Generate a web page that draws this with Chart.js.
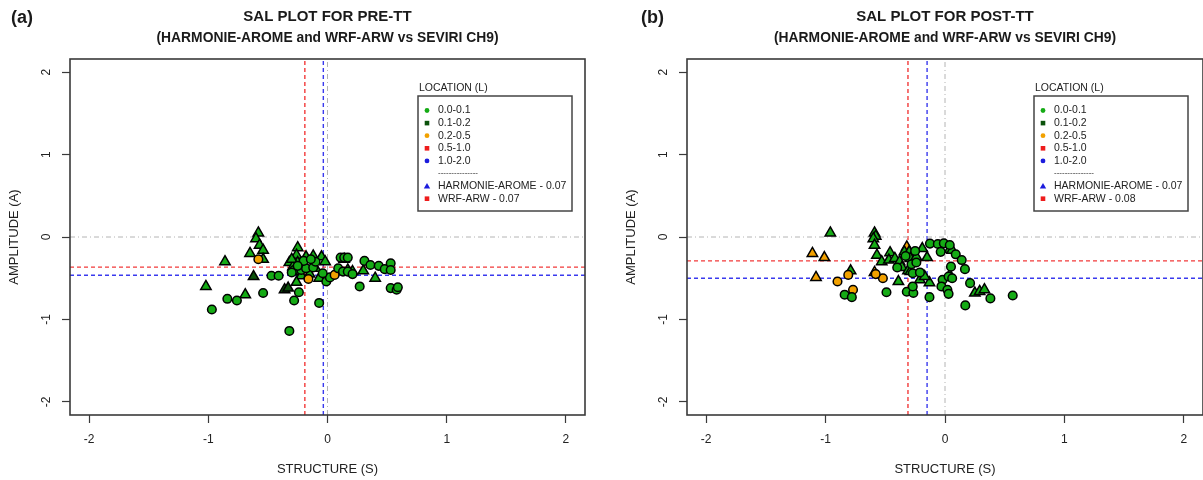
<!DOCTYPE html>
<html>
<head>
<meta charset="utf-8">
<script src="https://cdn.jsdelivr.net/npm/chart.js@4/dist/chart.umd.min.js"></script>
<style>
  html, body { margin: 0; padding: 0; background: #fff; width: 1203px; height: 480px; overflow: hidden; }
  canvas { position: absolute; top: 0; }
  #panelA { left: 0; }
  #panelB { left: 617px; }
</style>
</head>
<body>
<canvas id="panelA" width="601" height="480"></canvas>
<canvas id="panelB" width="586" height="480"></canvas>
<script>
// ---- axis ticks and ranges ----
const tickValues = [-2, -1, 0, 1, 2];
const axisMin = -2.16;
const axisMax = 2.16;

// ---- location classes (L) ----
const locLabels = ['0.0-0.1', '0.1-0.2', '0.2-0.5', '0.5-1.0', '1.0-2.0'];
const locColors = ['#15ab15', '#0b520b', '#f2a100', '#ee1c1c', '#1c1cdd'];
const locSymbols = ['circle', 'rect', 'circle', 'rect', 'circle'];

// ---- models ----
const modelNames = ['HARMONIE-AROME', 'WRF-ARW'];
const modelColors = ['#1c1cdd', '#ee1c1c'];
const meanLineColors = ['#3a3aee', '#f23a3a'];
const modelShapes = ['triangle', 'circle'];

// ---- panel titles ----
const titlePre = ['SAL PLOT FOR PRE-TT', '(HARMONIE-AROME and WRF-ARW vs SEVIRI CH9)'];
const titlePost = ['SAL PLOT FOR POST-TT', '(HARMONIE-AROME and WRF-ARW vs SEVIRI CH9)'];

// ---- model scores shown in the legend ----
const scoresPre = [0.07, 0.07];
const scoresPost = [0.07, 0.08];

// ---- mean S and A per model: [HARMONIE-AROME, WRF-ARW] ----
const meanSPre = [-0.035, -0.19];
const meanAPre = [-0.465, -0.365];
const meanSPost = [-0.15, -0.31];
const meanAPost = [-0.50, -0.29];

// ---- SAL values per case: [S, A, location class index] ----
const preHarmonie = [
  [-0.58, 0.05, 0], [-0.60, -0.02, 0], [-0.57, -0.10, 0], [-0.54, -0.16, 0], [-0.65, -0.20, 0],
  [-0.54, -0.27, 0], [-0.86, -0.30, 0], [-0.62, -0.48, 1], [-1.02, -0.60, 0], [-0.69, -0.70, 0],
  [-0.36, -0.64, 1], [-0.33, -0.62, 1], [-0.25, -0.13, 0], [-0.26, -0.22, 0], [-0.32, -0.31, 0],
  [-0.25, -0.31, 0], [-0.18, -0.24, 0], [-0.12, -0.23, 0], [-0.05, -0.24, 0], [-0.25, -0.42, 0],
  [-0.22, -0.47, 0], [-0.10, -0.38, 0], [-0.07, -0.50, 0], [-0.26, -0.55, 0], [0.14, -0.27, 0],
  [0.17, -0.40, 0], [0.30, -0.41, 0], [0.40, -0.50, 0], [0.21, -0.42, 0], [-0.29, -0.36, 0],
  [-0.30, -0.27, 0], [-0.21, -0.33, 0], [-0.15, -0.45, 0], [-0.02, -0.30, 0]
];
const preWrf = [
  [-0.47, -0.47, 0], [-0.41, -0.47, 0], [-0.54, -0.68, 0], [-0.84, -0.75, 0], [-0.76, -0.77, 0],
  [-0.97, -0.88, 0], [-0.32, -1.14, 0], [-0.28, -0.77, 0], [-0.24, -0.67, 0], [-0.07, -0.80, 0],
  [-0.28, -0.40, 0], [-0.22, -0.40, 0], [-0.18, -0.38, 0], [-0.12, -0.37, 0], [-0.16, -0.51, 2],
  [-0.58, -0.27, 2], [-0.01, -0.54, 0], [0.02, -0.49, 0], [0.06, -0.46, 2], [0.09, -0.38, 0],
  [0.13, -0.42, 0], [0.17, -0.42, 0], [0.21, -0.45, 0], [0.11, -0.25, 0], [0.14, -0.25, 0],
  [0.17, -0.25, 0], [0.27, -0.60, 0], [0.31, -0.29, 0], [0.36, -0.34, 0], [0.43, -0.35, 0],
  [0.48, -0.39, 0], [0.53, -0.32, 0], [0.53, -0.40, 0], [0.53, -0.62, 0], [0.58, -0.64, 0],
  [0.59, -0.61, 0], [-0.20, -0.29, 0], [-0.10, -0.30, 0], [-0.30, -0.43, 0], [-0.04, -0.44, 0],
  [-0.25, -0.35, 0], [-0.14, -0.27, 0]
];
const postHarmonie = [
  [-0.96, 0.05, 0], [-0.59, 0.05, 0], [-0.58, 0.01, 0], [-0.60, -0.02, 0], [-0.59, -0.10, 0],
  [-1.11, -0.20, 2], [-1.01, -0.25, 2], [-1.08, -0.49, 2], [-0.79, -0.41, 0], [-0.59, -0.43, 2],
  [-0.39, -0.54, 0], [-0.57, -0.22, 0], [-0.53, -0.30, 0], [-0.46, -0.19, 0], [-0.47, -0.28, 0],
  [-0.42, -0.26, 0], [-0.38, -0.30, 0], [-0.36, -0.37, 0], [-0.32, -0.12, 2], [-0.34, -0.18, 0],
  [-0.30, -0.18, 0], [-0.29, -0.26, 0], [-0.24, -0.24, 0], [-0.19, -0.14, 0], [-0.31, -0.41, 0],
  [-0.29, -0.42, 0], [-0.21, -0.52, 0], [-0.13, -0.555, 0], [-0.17, -0.48, 0], [0.04, -0.15, 0],
  [0.06, -0.16, 0], [0.04, -0.46, 0], [0.25, -0.68, 0], [0.29, -0.66, 0], [0.33, -0.64, 0],
  [-0.15, -0.25, 0]
];
const postWrf = [
  [-0.90, -0.54, 2], [-0.81, -0.46, 2], [-0.77, -0.64, 2], [-0.84, -0.70, 0], [-0.78, -0.73, 0],
  [-0.52, -0.50, 2], [-0.58, -0.45, 2], [-0.49, -0.67, 0], [-0.32, -0.665, 0], [-0.265, -0.68, 0],
  [-0.27, -0.60, 0], [-0.13, -0.73, 0], [-0.126, -0.08, 0], [-0.06, -0.085, 0], [-0.01, -0.077, 0],
  [0.04, -0.097, 0], [-0.036, -0.18, 0], [0.09, -0.21, 0], [0.14, -0.28, 0], [0.05, -0.36, 0],
  [0.167, -0.39, 0], [-0.02, -0.52, 0], [0.03, -0.48, 0], [0.06, -0.50, 0], [-0.03, -0.60, 0],
  [0.02, -0.64, 0], [0.03, -0.69, 0], [0.21, -0.56, 0], [0.38, -0.745, 0], [0.567, -0.71, 0],
  [0.17, -0.83, 0], [-0.28, -0.33, 0], [-0.24, -0.31, 0], [-0.27, -0.44, 0], [-0.21, -0.43, 0],
  [-0.33, -0.23, 0], [-0.25, -0.17, 0], [-0.40, -0.37, 0]
];

const FONT = '"Liberation Sans", Arial, Helvetica, sans-serif';

// vertical / horizontal reference line as a two-point dataset
function vLine(x, color, dash, width) {
  return { data: [{x: x, y: axisMin}, {x: x, y: axisMax}], showLine: true, borderColor: color,
           borderDash: dash, borderWidth: width, pointRadius: 0, fill: false, order: 1 };
}
function hLine(y, color, dash, width) {
  return { data: [{x: axisMin, y: y}, {x: axisMax, y: y}], showLine: true, borderColor: color,
           borderDash: dash, borderWidth: width, pointRadius: 0, fill: false, order: 1 };
}

function pointSet(rows, shape) {
  return {
    data: rows.map(r => ({x: r[0], y: r[1]})),
    pointStyle: shape,
    pointRadius: shape === 'triangle' ? 6 : 4.3,
    pointBorderWidth: 1.5,
    pointBorderColor: '#000',
    pointBackgroundColor: ctx => locColors[rows[ctx.dataIndex][2]],
    showLine: false,
    order: 0
  };
}

// box around the plotting region
const boxPlugin = {
  id: 'plotBox',
  afterDraw(chart) {
    const {ctx, chartArea: a} = chart;
    ctx.save();
    ctx.strokeStyle = '#3a3a3a';
    ctx.lineWidth = 1.6;
    ctx.strokeRect(a.left, a.top, a.right - a.left, a.bottom - a.top);
    ctx.restore();
  }
};

// two-line panel heading plus the (a)/(b) tag
const headingPlugin = {
  id: 'heading',
  afterDraw(chart, args, opts) {
    const {ctx, chartArea: a} = chart;
    const cx = (a.left + a.right) / 2;
    ctx.save();
    ctx.fillStyle = '#1a1a1a';
    ctx.textAlign = 'center';
    ctx.textBaseline = 'middle';
    ctx.font = 'bold 15px ' + FONT;
    opts.lines.forEach((t, i) => ctx.fillText(t, cx, 17 + i * 21, opts.widths[i]));
    ctx.textAlign = 'left';
    ctx.font = 'bold 18px ' + FONT;
    ctx.fillText(opts.tag, opts.tagX, 18);
    ctx.restore();
  }
};

function drawSymbol(ctx, shape, x, y, color) {
  ctx.fillStyle = color;
  ctx.beginPath();
  if (shape === 'circle') {
    ctx.arc(x, y, 2.4, 0, Math.PI * 2);
  } else if (shape === 'rect') {
    ctx.rect(x - 2.3, y - 2.3, 4.6, 4.6);
  } else {
    ctx.moveTo(x, y - 3);
    ctx.lineTo(x + 3.2, y + 2.3);
    ctx.lineTo(x - 3.2, y + 2.3);
    ctx.closePath();
  }
  ctx.fill();
}

// LOCATION (L) legend box
const locLegendPlugin = {
  id: 'locLegend',
  afterDraw(chart, args, opts) {
    const {ctx, chartArea: a} = chart;
    const w = 154, h = 115;
    const left = a.right - opts.inset - w;
    const top = a.top + 37;
    ctx.save();
    ctx.font = '10.5px ' + FONT;
    ctx.textAlign = 'left';
    ctx.textBaseline = 'middle';
    ctx.fillStyle = '#222';
    ctx.fillText('LOCATION (L)', left + 1, top - 8);
    ctx.fillStyle = '#fff';
    ctx.fillRect(left, top, w, h);
    ctx.strokeStyle = '#444';
    ctx.lineWidth = 1.5;
    ctx.strokeRect(left, top, w, h);
    const step = 12.6;
    let y = top + 14.5;
    const sx = left + 9, tx = left + 20;
    locLabels.forEach((lab, i) => {
      drawSymbol(ctx, locSymbols[i], sx, y, locColors[i]);
      ctx.fillStyle = '#222';
      ctx.fillText(lab, tx, y);
      y += step;
    });
    ctx.font = '8px ' + FONT;
    ctx.fillStyle = '#222';
    ctx.fillText('---------------', tx, y - 1);
    y += step;
    ctx.font = '10.5px ' + FONT;
    modelNames.forEach((name, i) => {
      drawSymbol(ctx, i === 0 ? 'triangle' : 'rect', sx, y, modelColors[i]);
      ctx.fillStyle = '#222';
      ctx.fillText(name + ' - ' + opts.scores[i].toFixed(2), tx, y);
      y += step;
    });
    ctx.restore();
  }
};

function makePanel(canvasId, harm, wrf, meanS, meanA, lines, tag, tagX, scores, rightPad, inset) {
  const grey = '#b4b4b4', dotDash = [5, 3, 1, 3], dash = [4, 3];
  const datasets = [
    vLine(0, grey, dotDash, 1), hLine(0, grey, dotDash, 1),
    vLine(meanS[1], meanLineColors[1], dash, 1.4), hLine(meanA[1], meanLineColors[1], dash, 1.4),
    vLine(meanS[0], meanLineColors[0], dash, 1.4), hLine(meanA[0], meanLineColors[0], dash, 1.4),
    pointSet(wrf, modelShapes[1]),
    pointSet(harm, modelShapes[0])
  ];
  const tickFont = {family: FONT, size: 12};
  return new Chart(document.getElementById(canvasId), {
    type: 'scatter',
    data: {datasets},
    plugins: [boxPlugin, headingPlugin, locLegendPlugin],
    options: {
      responsive: false,
      animation: false,
      devicePixelRatio: 1,
      events: [],
      layout: {autoPadding: false, padding: {top: 59, right: rightPad, left: 0, bottom: 0}},
      plugins: {
        legend: {display: false},
        tooltip: {enabled: false},
        title: {display: false},
        heading: {lines, tag, tagX, widths: [400, 342]},
        locLegend: {scores, inset}
      },
      scales: {
        x: {
          type: 'linear', min: axisMin, max: axisMax,
          afterBuildTicks: s => { s.ticks = tickValues.map(v => ({value: v})); },
          afterFit: s => { s.height = 65; s.paddingLeft = 0; s.paddingRight = 0; },
          border: {display: false},
          grid: {display: true, drawOnChartArea: false, drawTicks: true, tickLength: 8, tickWidth: 1.2, tickColor: '#3a3a3a'},
          ticks: {font: tickFont, color: '#222', padding: 9, maxRotation: 0, callback: v => String(v)},
          title: {display: true, text: 'STRUCTURE (S)', color: '#222', font: {family: FONT, size: 13}, padding: {top: 0, bottom: 3}}
        },
        y: {
          type: 'linear', min: axisMin, max: axisMax,
          afterBuildTicks: s => { s.ticks = tickValues.map(v => ({value: v})); },
          afterFit: s => { s.width = 70; s.paddingTop = 0; s.paddingBottom = 0; },
          border: {display: false},
          grid: {display: true, drawOnChartArea: false, drawTicks: true, tickLength: 8, tickWidth: 1.2, tickColor: '#3a3a3a'},
          ticks: {font: tickFont, color: '#222', padding: 10, minRotation: 90, maxRotation: 90, crossAlign: 'center', callback: v => String(v)},
          title: {display: true, text: 'AMPLITUDE (A)', color: '#222', font: {family: FONT, size: 13}, padding: {top: 7, bottom: 0}}
        }
      }
    }
  });
}

makePanel('panelA', preHarmonie, preWrf, meanSPre, meanAPre, titlePre, '(a)', 11, scoresPre, 16, 13);
makePanel('panelB', postHarmonie, postWrf, meanSPost, meanAPost, titlePost, '(b)', 24, scoresPost, 0, 15);
</script>
</body>
</html>
